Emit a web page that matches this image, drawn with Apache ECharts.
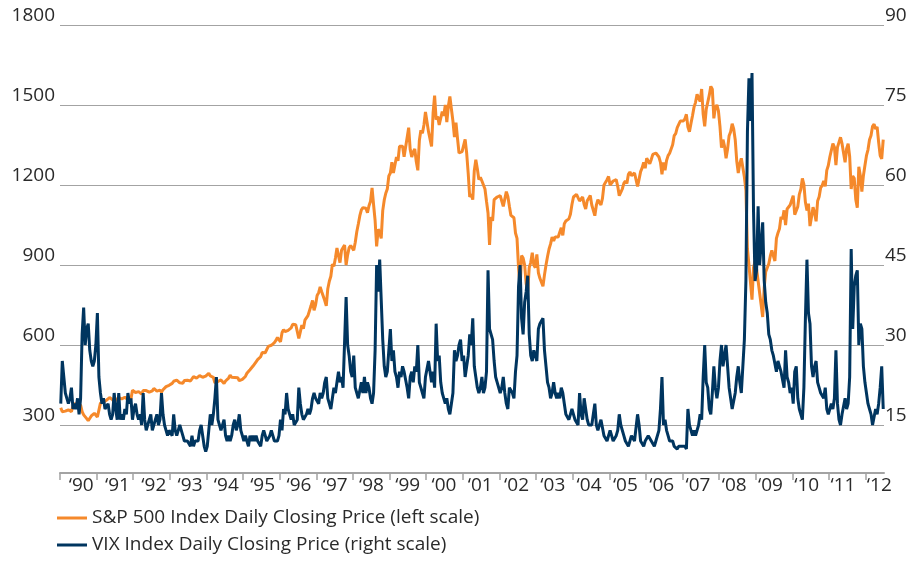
<!DOCTYPE html>
<html>
<head>
<meta charset="utf-8">
<script src="https://cdn.jsdelivr.net/npm/echarts@6/dist/echarts.min.js"></script>
<style>
  html, body { margin: 0; padding: 0; background: #fff; }
  #chart { width: 924px; height: 563px; }
</style>
</head>
<body>
<div id="chart"></div>
<script>
// Semi-monthly readings (two per month) starting January 1990
const START_YEAR = 1990;
const PERIODS_PER_YEAR = 24;

const yearTicks = [1990,1991,1992,1993,1994,1995,1996,1997,1998,1999,2000,2001,2002,2003,2004,2005,2006,2007,2008,2009,2010,2011,2012];
const leftTicks = [300, 600, 900, 1200, 1500, 1800];
const rightTicks = [15, 30, 45, 60, 75, 90];

const seriesNames = ['S&P 500 Index Daily Closing Price (left scale)', 'VIX Index Daily Closing Price (right scale)'];

const spx = [
  365,350,350,352,358,357,360,350,372,380,382,378,384,375,350,338,333,324,316,322,334,340,344,347,
  330,356,382,380,386,388,393,388,403,402,395,384,393,400,403,408,398,400,404,405,395,388,398,430,
  431,422,425,425,418,416,429,427,429,428,423,421,428,437,433,427,433,431,423,432,438,444,446,449,
  447,456,464,460,468,469,458,457,457,467,463,468,466,465,472,481,479,476,483,485,480,479,482,483,
  486,494,484,479,479,458,458,463,467,469,471,456,465,470,476,487,479,475,478,484,477,466,470,471,
  477,482,494,499,507,512,521,526,537,545,551,556,572,574,571,573,595,596,599,593,609,617,628,627,
  612,646,658,650,651,655,655,664,678,679,676,681,625,649,675,661,693,697,710,715,747,767,730,751,
  786,796,818,800,800,767,747,811,839,858,903,895,926,964,935,909,955,957,975,900,938,965,973,980,
  955,985,1025,1054,1085,1107,1115,1117,1113,1096,1122,1139,1189,1126,1067,970,1034,1022,1000,1104,1144,1169,1185,1234,
  1245,1285,1245,1243,1305,1291,1345,1340,1345,1306,1300,1378,1415,1333,1305,1325,1335,1287,1255,1367,1405,1394,1425,1474,
  1470,1400,1395,1345,1470,1535,1445,1457,1425,1425,1475,1460,1500,1436,1495,1532,1485,1440,1380,1434,1375,1320,1315,1325,
  1331,1371,1320,1245,1155,1165,1145,1254,1295,1261,1220,1229,1215,1216,1185,1139,1095,975,1080,1065,1145,1144,1155,1153,
  1160,1140,1120,1116,1175,1157,1120,1086,1085,1077,1020,1000,890,815,935,926,900,830,800,890,910,946,900,890,
  940,871,850,856,820,863,900,932,960,979,1005,990,1005,1005,1005,1023,1040,1011,1055,1065,1065,1073,1090,1127,
  1155,1151,1165,1165,1140,1146,1155,1127,1110,1141,1150,1161,1125,1121,1085,1124,1145,1135,1125,1150,1200,1194,1220,1232,
  1200,1196,1215,1219,1220,1195,1160,1172,1185,1206,1215,1206,1240,1249,1235,1235,1245,1243,1195,1222,1250,1264,1285,1263,
  1300,1295,1280,1296,1315,1310,1320,1326,1305,1285,1240,1285,1255,1292,1310,1319,1335,1351,1385,1393,1415,1416,1440,1433,
  1440,1448,1465,1417,1400,1431,1460,1492,1510,1540,1540,1513,1560,1465,1420,1484,1490,1537,1570,1559,1450,1491,1500,1478,
  1420,1340,1370,1345,1300,1335,1385,1400,1430,1410,1370,1290,1245,1280,1300,1295,1230,1180,960,900,900,770,890,915,
  885,840,845,750,705,815,875,890,905,934,955,934,915,1000,1020,1036,1080,1072,1105,1050,1110,1111,1125,1130,
  1160,1089,1090,1119,1165,1184,1225,1202,1135,1104,1130,1046,1080,1117,1095,1064,1140,1156,1190,1198,1215,1195,1255,1273,
  1305,1301,1355,1342,1275,1341,1335,1379,1355,1360,1285,1336,1355,1307,1185,1234,1225,1146,1115,1268,1235,1175,1235,1273,
  1310,1332,1370,1386,1420,1428,1410,1418,1360,1310,1298,1370
];

const vix = [
  19,27,24,21,20,19,20,22,18,19,18,20,17,20,32,37,30,33,34,29,27,26,27,30,
  36,24,21,19,20,18,18,19,17,16,17,21,18,16,21,16,17,16,18,17,21,19,20,16,
  18,19,17,16,17,15,21,16,14,15,15,17,14,15,16,17,15,16,21,17,15,14,13,14,
  14,13,17,14,13,13,15,14,13,12,12,12,12,11,13,11,12,12,12,14,15,13,11,10,
  11,11,17,15,17,20,24,16,15,14,14,16,13,12,13,12,13,15,16,14,15,17,14,13,
  12,13,12,11,13,12,13,12,13,12,12,11,13,14,13,12,12,13,14,13,12,12,12,13,
  16,14,18,17,21,18,17,16,17,15,15,16,22,19,17,16,16,17,18,17,18,20,21,20,
  20,19,21,20,21,23,24,20,19,18,20,22,21,23,25,23,24,22,22,39,30,28,25,24,
  28,22,21,20,20,23,21,24,21,23,22,20,19,21,29,45,40,46,46,31,26,24,25,25,
  33,27,29,25,24,22,25,24,26,25,25,22,20,24,25,23,26,25,30,23,22,21,20,24,
  24,27,25,23,25,22,34,27,28,23,21,20,19,20,18,17,19,21,29,27,28,30,31,27,
  28,24,24,28,32,30,35,26,24,22,21,22,24,21,22,25,44,33,33,31,27,24,23,23,
  21,22,24,21,19,18,22,22,21,20,25,28,41,45,35,32,38,40,43,32,28,27,29,28,
  27,33,34,34,35,29,26,23,22,20,21,23,21,20,21,20,22,21,19,17,17,16,17,18,
  17,16,16,15,21,17,16,20,18,16,15,15,15,17,19,15,14,14,16,16,13,13,12,13,
  14,13,12,12,13,14,17,15,15,13,12,12,11,11,13,13,12,12,17,15,12,12,11,12,
  12,13,13,12,12,11,12,12,14,18,24,15,16,14,13,12,12,12,11,11,10.5,11,11,11,
  11,11,10.5,18,15,14,13,14,13,13,15,17,16,24,30,23,22,18,17,21,26,22,20,22,
  27,30,26,26,30,26,22,20,18,18,21,24,26,23,21,21,31,42,70,80,72,81,55,42,
  44,56,45,49,53,42,38,36,32,31,29,28,28,25,27,26,25,25,22,29,24,23,21,22,
  19,25,26,20,18,17,16,22,35,46,36,34,26,24,26,27,23,22,21,21,20,22,18,17,
  17,19,18,20,29,19,16,15,17,17,20,18,19,24,48,33,41,43,44,30,34,33,26,23,
  21,19,18,17,15,15,18,17,19,22,26,18
];

function toPairs(values) {
  return values.map((v, i) => [START_YEAR + (i + 0.5) / PERIODS_PER_YEAR, v]);
}

const TEXT = '#2a2a2a';
const FONT = 'Open Sans';
const FS = 19;
const GRID = '#a3a3a3';

// label anchor positions (inside each year's segment)
const labelPositions = yearTicks.map((y, k) => y + 0.58 - 0.0095 * k);

const chart = echarts.init(document.getElementById('chart'), null, { renderer: 'canvas' });

chart.setOption({
  animation: false,
  backgroundColor: '#ffffff',
  textStyle: { fontFamily: FONT },
  grid: { left: 60, right: 40, top: 25, bottom: 138, containLabel: false },
  legend: {
    orient: 'vertical',
    left: 57,
    top: 508,
    padding: 0,
    width: 600,
    height: 60,
    itemWidth: 30,
    itemHeight: 3,
    itemGap: 7,
    icon: 'rect',
    textStyle: { color: TEXT, fontFamily: FONT, fontSize: FS, lineHeight: 20 },
    data: seriesNames
  },
  xAxis: {
    type: 'value',
    min: 1990,
    max: 2012.5,
    offset: 48,
    axisLine: { show: true, lineStyle: { color: GRID, width: 2 } },
    axisTick: { show: true, length: 7, lineStyle: { color: GRID, width: 1.5 }, customValues: yearTicks },
    axisLabel: {
      show: true,
      customValues: labelPositions,
      formatter: v => '\u2018' + String(Math.floor(v)).slice(2),
      color: TEXT, fontFamily: FONT, fontSize: FS, margin: 3
    },
    splitLine: { show: false }
  },
  yAxis: [
    {
      type: 'value', min: leftTicks[0], max: leftTicks[leftTicks.length - 1], interval: 300,
      position: 'left',
      axisLine: { show: false }, axisTick: { show: false },
      axisLabel: { formatter: v => String(v), color: TEXT, fontFamily: FONT, fontSize: FS, margin: 5, verticalAlign: 'bottom', lineHeight: 18 },
      splitLine: { show: true, lineStyle: { color: GRID, width: 1 } }
    },
    {
      type: 'value', min: rightTicks[0], max: rightTicks[rightTicks.length - 1], interval: 15,
      position: 'right',
      axisLine: { show: false }, axisTick: { show: false },
      axisLabel: { formatter: v => String(v), color: TEXT, fontFamily: FONT, fontSize: FS, margin: 1, verticalAlign: 'bottom', lineHeight: 18 },
      splitLine: { show: false }
    }
  ],
  series: [
    {
      name: seriesNames[0], type: 'line', yAxisIndex: 0, data: toPairs(spx),
      showSymbol: false, clip: false, smooth: false,
      lineStyle: { color: '#F5892B', width: 3 }, itemStyle: { color: '#F5892B' }, z: 2
    },
    {
      name: seriesNames[1], type: 'line', yAxisIndex: 1, data: toPairs(vix),
      showSymbol: false, clip: false, smooth: false,
      lineStyle: { color: '#00355F', width: 3 }, itemStyle: { color: '#00355F' }, z: 3
    }
  ]
});
</script>
</body>
</html>
